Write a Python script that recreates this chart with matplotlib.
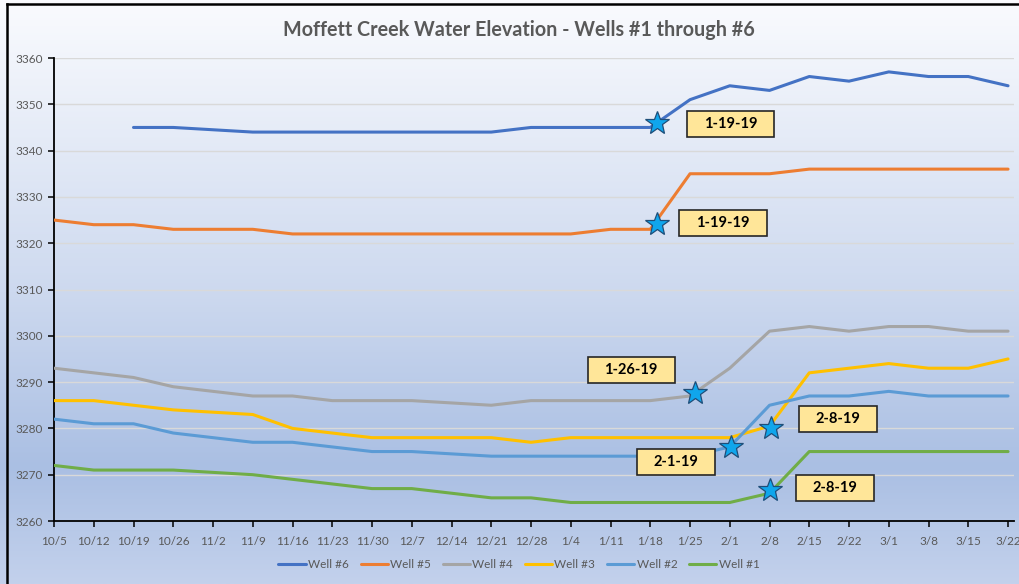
import numpy as np
import matplotlib
matplotlib.use("Agg")
import matplotlib.pyplot as plt
from matplotlib.path import Path
from matplotlib.lines import Line2D

plt.rcParams['font.family'] = ['Lato', 'DejaVu Sans']

# --- data ---
dates = ["10/5", "10/12", "10/19", "10/26", "11/2", "11/9", "11/16", "11/23", "11/30",
         "12/7", "12/14", "12/21", "12/28", "1/4", "1/11", "1/18", "1/25", "2/1", "2/8",
         "2/15", "2/22", "3/1", "3/8", "3/15", "3/22"]

well6 = [np.nan, np.nan, 3345, 3345, 3344.5, 3344, 3344, 3344, 3344, 3344, 3344, 3344, 3345,
         3345, 3345, 3345, 3351, 3354, 3353, 3356, 3355, 3357, 3356, 3356, 3354]
well5 = [3325, 3324, 3324, 3323, 3323, 3323, 3322, 3322, 3322, 3322, 3322, 3322, 3322,
         3322, 3323, 3323, 3335, 3335, 3335, 3336, 3336, 3336, 3336, 3336, 3336]
well4 = [3293, 3292, 3291, 3289, 3288, 3287, 3287, 3286, 3286, 3286, 3285.5, 3285, 3286,
         3286, 3286, 3286, 3287, 3293, 3301, 3302, 3301, 3302, 3302, 3301, 3301]
well3 = [3286, 3286, 3285, 3284, 3283.5, 3283, 3280, 3279, 3278, 3278, 3278, 3278, 3277,
         3278, 3278, 3278, 3278, 3278, 3280.5, 3292, 3293, 3294, 3293, 3293, 3295]
well2 = [3282, 3281, 3281, 3279, 3278, 3277, 3277, 3276, 3275, 3275, 3274.5, 3274, 3274,
         3274, 3274, 3274, 3274, 3276, 3285, 3287, 3287, 3288, 3287, 3287, 3287]
well1 = [3272, 3271, 3271, 3271, 3270.5, 3270, 3269, 3268, 3267, 3267, 3266, 3265, 3265,
         3264, 3264, 3264, 3264, 3264, 3266, 3275, 3275, 3275, 3275, 3275, 3275]

series_names = ["Well #6", "Well #5", "Well #4", "Well #3", "Well #2", "Well #1"]
series_values = [well6, well5, well4, well3, well2, well1]
series_colors = ["#4472C4", "#ED7D31", "#A5A5A5", "#FFC000", "#5B9BD5", "#70AD47"]

# star markers (category index, value) and their callout labels
star_x = [15.17, 15.17, 16.13, 17.03, 18.04, 18.01]
star_y = [3346, 3324.2, 3287.6, 3276, 3280, 3266.7]
label_text = ["1-19-19", "1-19-19", "1-26-19", "2-1-19", "2-8-19", "2-8-19"]
label_x = [17.03, 16.83, 14.52, 15.65, 19.72, 19.65]
label_y = [3345.7, 3324.4, 3292.6, 3272.7, 3282.0, 3267.1]

fig = plt.figure(figsize=(10.19, 5.84), dpi=100)

# gradient background
bg = fig.add_axes([0, 0, 1, 1], zorder=-5)
stops = [(0.0, (250, 251, 254)), (0.5, (205, 217, 239)), (0.8, (170, 191, 227)), (1.0, (195, 209, 236))]
t = np.linspace(0, 1, 400)
grad = np.stack([np.interp(t, [s[0] for s in stops], [s[1][c] for s in stops]) for c in range(3)], axis=-1) / 255
bg.imshow(grad[:, None, :], aspect='auto', extent=[0, 1, 0, 1])
bg.set_axis_off()
# outer border (left and top edges visible)
fig.add_artist(Line2D([7 / 1019, 7 / 1019], [0, 1 - 4 / 584], color='black', lw=1.8, transform=fig.transFigure))
fig.add_artist(Line2D([7 / 1019, 1], [1 - 4 / 584, 1 - 4 / 584], color='black', lw=1.8, transform=fig.transFigure))

ax = fig.add_axes([54 / 1019, 1 - 521 / 584, 960 / 1019, 463 / 584])
ax.set_facecolor('none')

x = np.arange(len(dates))
for name, vals, col in zip(series_names, series_values, series_colors):
    ax.plot(x, vals, color=col, lw=2.2, label=name, solid_capstyle='round', zorder=3)

ax.set_xlim(0, 24.15)
ax.set_ylim(3260, 3360)
ax.set_yticks(range(3260, 3361, 10))
ax.set_xticks(x)
ax.set_xticklabels(dates)
ax.grid(axis='y', color='#D9D9D9', lw=1.0, zorder=0)
ax.set_axisbelow(True)
for s in ['top', 'right']:
    ax.spines[s].set_visible(False)
for s in ['left', 'bottom']:
    ax.spines[s].set_color('black')
    ax.spines[s].set_linewidth(1.3)
ax.tick_params(axis='both', colors='black', labelcolor='#595959', labelsize=8.5, length=4, width=1.1)
ax.tick_params(axis='x', pad=7)
ax.tick_params(axis='y', pad=4)


def wide_box(x0, y0, width, height, mutation_size):
    padx = 1.15 * mutation_size
    pady = 0.42 * mutation_size
    x0, y0 = x0 - padx, y0 - pady
    x1, y1 = x0 + width + 2 * padx, y0 + height + 2 * pady
    return Path([(x0, y0), (x1, y0), (x1, y1), (x0, y1), (x0, y0)], closed=True)


ax.plot(star_x, star_y, ls='none', marker='*', markersize=18, markerfacecolor='#10A6EC',
        markeredgecolor='#1F4E79', markeredgewidth=0.9, zorder=5)
for txt, lx, ly in zip(label_text, label_x, label_y):
    ax.text(lx, ly, txt, ha='center', va='center', fontsize=10.5, fontweight='bold', color='black',
            zorder=6, bbox=dict(boxstyle=wide_box, facecolor='#FFE699', edgecolor='#262626', lw=1.2))

fig.text(519 / 1019, 1 - 30 / 584, "Moffett Creek Water Elevation - Wells #1 through #6",
         ha='center', va='center', fontsize=14.2, fontweight='bold', color='#595959')

fig.legend(loc='center', bbox_to_anchor=(519 / 1019, 1 - 565 / 584), ncol=6, frameon=False,
           fontsize=8.5, labelcolor='#595959', handlelength=2.3, handletextpad=0.2, columnspacing=1.0)

fig.savefig("out.png", dpi=100)
